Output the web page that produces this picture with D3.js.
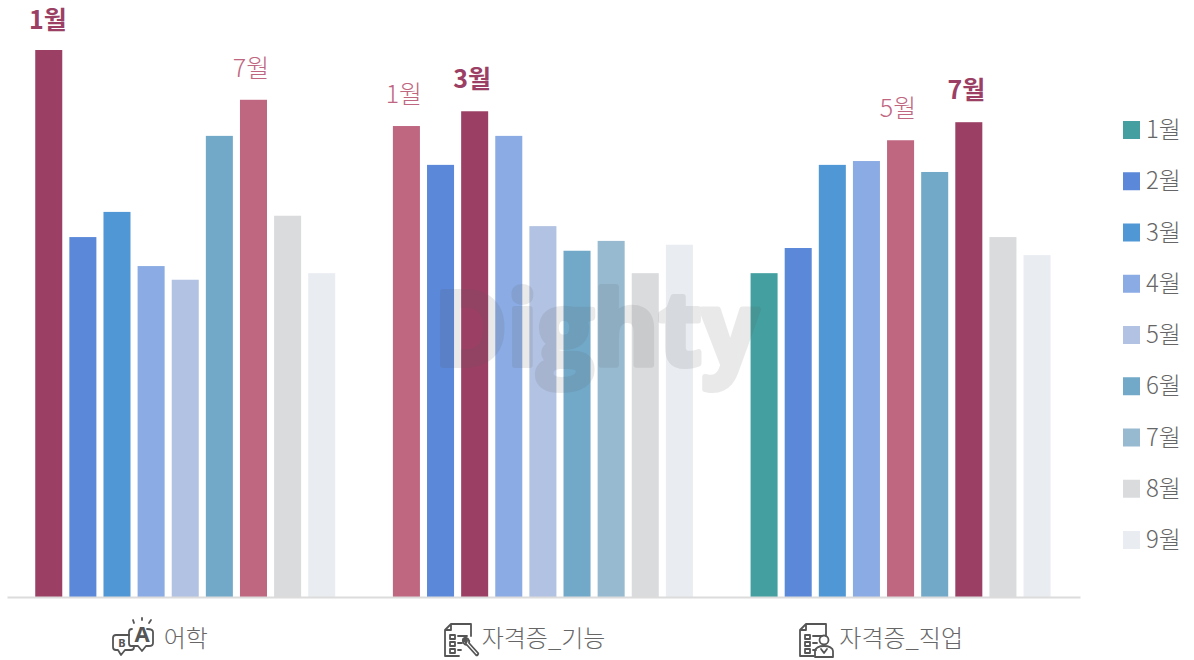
<!DOCTYPE html>
<html lang="ko">
<head>
<meta charset="utf-8">
<script src="https://cdn.jsdelivr.net/npm/d3@7"></script>
<style>
  body { margin: 0; background: #fff; }
  svg { display: block; }
  text { font-family: "Noto Sans CJK KR", "Noto Sans", sans-serif; }
</style>
</head>
<body>
<div id="chart"></div>
<script>
const months = ['1월', '2월', '3월', '4월', '5월', '6월', '7월', '8월', '9월'];
const categories = ['어학', '자격증_기능', '자격증_직업'];
const languageValues = [100, 65.8, 70.4, 60.5, 58.0, 84.3, 90.9, 69.7, 59.2];
const skillValues = [86.1, 79.0, 88.8, 84.3, 67.8, 63.3, 65.1, 59.2, 64.4];
const jobValues = [59.2, 63.8, 79.0, 79.7, 83.5, 77.7, 86.8, 65.8, 62.5];
const monthColors = ['#44a0a0', '#5b88d9', '#5097d5', '#8aabe3', '#b2c2e2', '#72a9c9', '#97bad1', '#dadbdd', '#e9ecf1'];
const topColor = '#9b4064';
const secondColor = '#bf6680';

const series = [languageValues, skillValues, jobValues];

const margin = { top: 50, right: 114, bottom: 63, left: 7 };
const width = 1194 - margin.left - margin.right;
const height = 660 - margin.top - margin.bottom;

const svg = d3.select('#chart')
    .append('svg')
        .attr('width', 1194)
        .attr('height', 660);

const g = svg.append('g')
    .attr('transform', 'translate(' + margin.left + ',' + margin.top + ')');

const x0 = d3.scaleBand().domain(categories).range([0, width]);
const x1 = d3.scaleBand().domain(months).range([-0.6, x0.bandwidth() - 0.6])
    .paddingInner(0.208)
    .paddingOuter(0.845);
const y = d3.scaleLinear().domain([0, 100]).range([height, 0]);

const group = g.selectAll('.group')
    .data(categories)
    .enter().append('g')
        .attr('class', 'group')
        .attr('transform', (d) => 'translate(' + x0(d) + ',0)');

group.each(function (cat, i) {
    const values = series[i];
    const sorted = values.slice().sort(d3.descending);
    const rows = months.map((m, j) => ({
        month: m,
        value: values[j],
        base: monthColors[j],
        rank: sorted.indexOf(values[j])
    }));

    d3.select(this).selectAll('rect')
        .data(rows)
        .enter().append('rect')
            .attr('x', (d) => x1(d.month))
            .attr('y', (d) => y(d.value))
            .attr('width', x1.bandwidth())
            .attr('height', (d) => height - y(d.value))
            .style('fill', (d) => d.rank === 0 ? topColor : d.rank === 1 ? secondColor : d.base);

    // Only the two highest months in each group get a label.
    d3.select(this).selectAll('text')
        .data(rows.filter((d) => d.rank < 2))
        .enter().append('text')
            // Labels sit slightly left of the bar, but stay inside the plot on the first bar.
            .attr('x', (d) => Math.max(x1(d.month) + x1.bandwidth() / 2 - 2.5, 41 - x0(cat)))
            .attr('y', (d) => Math.max(y(d.value) - 23, -21))
            .attr('text-anchor', 'middle')
            .style('font-size', '25px')
            .style('font-weight', (d) => d.rank === 0 ? 700 : 300)
            .style('fill', (d) => d.rank === 0 ? topColor : secondColor)
            .text((d) => d.month);
});

const xAxis = d3.axisBottom(x0).tickSize(0).tickPadding(33);
const axisG = g.append('g')
    .attr('class', 'x axis')
    .attr('transform', 'translate(0,' + height + ')')
    .call(xAxis);
axisG.select('.domain').style('stroke', '#dcdcdc').style('stroke-width', 2);
axisG.selectAll('text')
    .style('font-size', '24px')
    .style('font-weight', 300)
    .style('font-family', '"Noto Sans CJK KR", sans-serif')
    .style('fill', '#666');

// Small line icons left of the axis labels.
const iconG = svg.append('g')
    .style('fill', 'none')
    .style('stroke', '#555')
    .style('stroke-width', 1.8)
    .style('stroke-linejoin', 'round')
    .style('stroke-linecap', 'round');

function docIcon(x) {
    const d = iconG.append('g').attr('transform', 'translate(' + x + ',623)');
    d.append('path').attr('d', 'M7 1H27V13M7 1L1 7V33H15M1 7H7V1');
    d.append('path').attr('d', 'M6 12h5v4h-5zM6 19h5v4h-5zM6 26h5v4h-5zM14 13h9M14 20h4M14 27h3');
    return d;
}

const wrench = docIcon(444);
wrench.append('path').attr('d', 'M19 16c-1 3 1 6 4 6l9 10c1 1 3-1 2-2l-9-10c1-3-2-6-5-5l3 3-1 2-3-4z');

const person = docIcon(799);
person.append('circle').attr('cx', 25).attr('cy', 17).attr('r', 4.5);
person.append('path').attr('d', 'M16 34v-6c0-3 4-5 9-5s9 2 9 5v6z M22 26l3 4 3-4');

const bubbles = iconG.append('g').attr('transform', 'translate(112,618)');
bubbles.append('path').attr('d', 'M19 28c-1 0-2-1-2-3V14c0-2 1-3 3-3M35 11c3 0 6 1 6 3v11c0 2-2 3-4 3h-3l-4 5-4-5h-6');
bubbles.append('path').attr('d', 'M17 17H4c-2 0-3 1-3 3v9c0 2 1 3 3 3h2l3 5 4-5h6c2 0 3-1 3-3');
bubbles.append('path').attr('d', 'M21 2l1 3M30 0v2M39 2l-2 3');
bubbles.append('text')
    .attr('x', 30)
    .attr('y', 24)
    .attr('text-anchor', 'middle')
    .style('font-family', '"Noto Sans", sans-serif')
    .style('font-size', '22px')
    .style('font-weight', 700)
    .style('fill', '#555')
    .style('stroke', 'none')
    .text('A');
bubbles.append('text')
    .attr('x', 10)
    .attr('y', 29)
    .attr('text-anchor', 'middle')
    .style('font-family', '"Noto Sans", sans-serif')
    .style('font-size', '11px')
    .style('font-weight', 700)
    .style('fill', '#555')
    .style('stroke', 'none')
    .text('B');

// Legend
const legendY = d3.scalePoint().domain(months).range([130, 540]);
const legend = svg.selectAll('.legend')
    .data(months)
    .enter().append('g')
        .attr('class', 'legend')
        .attr('transform', (d) => 'translate(1123,' + legendY(d) + ')');

legend.append('rect')
    .attr('y', -9)
    .attr('width', 17)
    .attr('height', 18)
    .style('fill', (d, i) => monthColors[i]);

legend.append('text')
    .attr('x', 23)
    .attr('y', 8)
    .style('font-size', '24px')
    .style('font-weight', 300)
    .style('fill', '#666')
    .text((d) => d);

// Watermark sits over the bars.
svg.append('text')
    .attr('x', 434)
    .attr('y', 365)
    .attr('textLength', 324)
    .attr('lengthAdjust', 'spacingAndGlyphs')
    .style('font-family', '"Open Sans", sans-serif')
    .style('font-size', '102px')
    .style('font-weight', 700)
    .style('fill', '#555')
    .style('stroke', '#555')
    .style('stroke-width', 6)
    .style('stroke-linejoin', 'round')
    .style('opacity', 0.12)
    .text('Dighty');
</script>
</body>
</html>
